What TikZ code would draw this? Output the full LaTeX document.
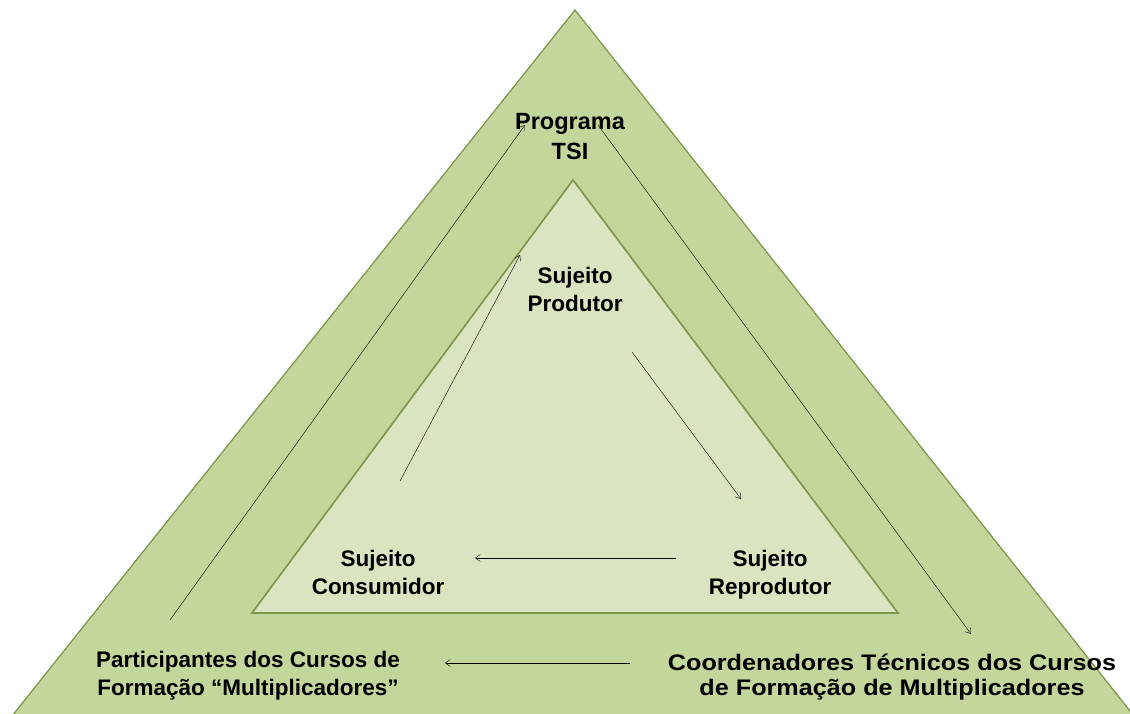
\documentclass[tikz,border=0pt]{standalone}
\usepackage{fontspec}
\setmainfont{Liberation Sans}
\newfontfamily\widefont[FakeStretch=1.12]{Liberation Sans}
\usetikzlibrary{arrows.meta}

\definecolor{outergreen}{HTML}{C3D69B}
\definecolor{innergreen}{HTML}{D9E5C0}
\definecolor{edgegreen}{HTML}{7A9548}

\tikzset{
  label text/.style={font=\bfseries\fontsize{22.5}{28}\selectfont, align=center, text=black, inner sep=0pt},
  wide text/.style={label text, font=\widefont\bfseries\fontsize{22.5}{25.5}\selectfont},
  flow/.style={thin, -{Straight Barb[length=5pt,width=7pt]}}
}

\begin{document}
\begin{tikzpicture}[x=1pt,y=-1pt]

  \useasboundingbox (0,0) rectangle (1130,713);

  % --- Outer and inner triangles ---
  \coordinate (Top) at (575,10);
  \coordinate (BL) at (12,716);
  \coordinate (BR) at (1134,716);
  \fill[outergreen, draw=edgegreen, line width=1.2pt] (Top) -- (BL) -- (BR) -- cycle;

  \coordinate (top) at (573,180);
  \coordinate (bl) at (252,613);
  \coordinate (br) at (898,613);
  \fill[innergreen, draw=edgegreen, line width=1.6pt] (top) -- (bl) -- (br) -- cycle;

  % --- Outer labels ---
  \node[label text, font=\bfseries\fontsize{23.5}{30}\selectfont] (programa) at (570,137) {Programa\\TSI};
  \node[label text] (participantes) at (248,676) {Participantes dos Cursos de\\Forma\c{c}\~ao ``Multiplicadores''};
  \node[wide text] (coordenadores) at (892,677) {Coordenadores T\'ecnicos dos Cursos\\de Forma\c{c}\~ao de Multiplicadores};

  % --- Inner labels ---
  \node[label text] (produtor) at (575,289) {Sujeito\\Produtor};
  \node[label text] (consumidor) at (378,572) {Sujeito\\Consumidor};
  \node[label text] (reprodutor) at (770,575) {Sujeito\\Reprodutor};

  % --- Arrow end points, outer cycle ---
  \coordinate (o1a) at (170,620);
  \coordinate (o1b) at (525,125);
  \coordinate (o2a) at (598,125);
  \coordinate (o2b) at (971,634);
  \coordinate (o3a) at (630,663);
  \coordinate (o3b) at (445,663);

  \draw[flow] (o1a) -- (o1b);
  \draw[flow] (o2a) -- (o2b);
  \draw[flow] (o3a) -- (o3b);

  % --- Arrow end points, inner cycle ---
  \coordinate (i1a) at (400,481);
  \coordinate (i1b) at (520,255);
  \coordinate (i2a) at (632,352);
  \coordinate (i2b) at (741,499);
  \coordinate (i3a) at (676,558);
  \coordinate (i3b) at (475,558);

  \draw[flow] (i1a) -- (i1b);
  \draw[flow] (i2a) -- (i2b);
  \draw[flow] (i3a) -- (i3b);

\end{tikzpicture}
\end{document}
